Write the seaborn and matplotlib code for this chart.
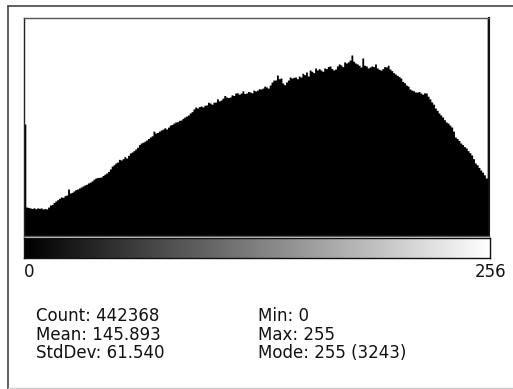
import numpy as np
import pandas as pd
import matplotlib
matplotlib.use("Agg")
import matplotlib.pyplot as plt
from matplotlib.lines import Line2D
import seaborn as sns

# ---- data: pixel counts per gray level (0..255) ----
levels = list(range(256))
counts = [
    1666, 431, 425, 417, 410, 420, 405, 418, 412, 417, 402, 410, 402, 430, 461, 470,
    500, 521, 540, 560, 580, 575, 600, 610, 699, 640, 650, 670, 690, 700, 715, 729,
    745, 760, 770, 790, 803, 820, 845, 863, 870, 872, 878, 900, 920, 937, 960, 997,
    1040, 1060, 1086, 1100, 1140, 1131, 1150, 1180, 1160, 1200, 1235, 1250, 1270, 1294, 1320, 1360,
    1383, 1395, 1410, 1428, 1450, 1473, 1490, 1560, 1532, 1540, 1560, 1577, 1590, 1610, 1592, 1620,
    1651, 1660, 1680, 1696, 1700, 1720, 1726, 1750, 1770, 1785, 1800, 1830, 1850, 1890, 1919, 1905,
    1925, 1934, 1920, 1945, 1949, 1990, 1978, 1960, 1990, 1993, 2040, 2010, 2023, 2050, 2090, 2068,
    2060, 2068, 2100, 2090, 2127, 2130, 2110, 2127, 2160, 2120, 2127, 2150, 2142, 2130, 2170, 2157,
    2170, 2190, 2187, 2200, 2230, 2217, 2200, 2246, 2290, 2320, 2321, 2395, 2340, 2350, 2276, 2250,
    2291, 2320, 2365, 2350, 2360, 2365, 2340, 2380, 2365, 2420, 2400, 2440, 2380, 2469, 2450, 2430,
    2499, 2470, 2490, 2469, 2450, 2500, 2490, 2520, 2529, 2490, 2470, 2484, 2530, 2560, 2544, 2520,
    2590, 2574, 2590, 2618, 2693, 2600, 2574, 2560, 2540, 2514, 2648, 2540, 2529, 2500, 2514, 2530,
    2520, 2560, 2500, 2480, 2469, 2490, 2520, 2514, 2540, 2484, 2460, 2430, 2410, 2390, 2370, 2350,
    2300, 2280, 2246, 2230, 2187, 2170, 2160, 2142, 2140, 2150, 2127, 2110, 2130, 2127, 2080, 2040,
    1993, 1960, 1904, 1870, 1830, 1800, 1770, 1730, 1696, 1680, 1650, 1621, 1560, 1473, 1450, 1420,
    1383, 1360, 1330, 1309, 1270, 1240, 1205, 1150, 1086, 1060, 1020, 982, 950, 910, 863, 3243,
]
axis_labels = ["0", "256"]
stats_left = ["Count: 442368", "Mean: 145.893", "StdDev: 61.540"]
stats_right = ["Min: 0", "Max: 255", "Mode: 255 (3243)"]
mode_count = 3243

df = pd.DataFrame({"level": levels, "count": counts})

sns.set_style("white")
plt.rcParams["font.family"] = ["DejaVu Sans"]

W, H = 513, 389
fig = plt.figure(figsize=(W / 100, H / 100), dpi=100)
fig.patch.set_facecolor("white")


def fx(px):
    return px / W


def fy(py):
    return 1 - py / H


# histogram axes
ax = fig.add_axes([fx(24), fy(236), fx(489) - fx(24), fy(18) - fy(236)])
sns.histplot(data=df, x="level", weights="count", bins=256, binrange=(0, 256),
             element="step", fill=True, color="black", alpha=1, linewidth=0, ax=ax)
ax.set_xlim(0, 256)
ax.set_ylim(0, mode_count)
ax.set_xticks([])
ax.set_yticks([])
ax.set_xlabel("")
ax.set_ylabel("")
for side, sp in ax.spines.items():
    sp.set_visible(True)
    sp.set_linewidth(1.0)
    sp.set_color("#555555")
ax.spines["left"].set_color("#222222")
ax.spines["right"].set_color("#111111")
ax.spines["right"].set_linewidth(1.5)

# gray-level bar
cax = fig.add_axes([fx(24), fy(258), fx(490) - fx(24), fy(238) - fy(258)])
grad = np.array(levels, dtype=float).reshape(1, -1)
cax.imshow(grad, cmap="gray", aspect="auto", extent=(0, 256, 0, 1), vmin=0, vmax=255)
cax.set_xticks([])
cax.set_yticks([])
for sp in cax.spines.values():
    sp.set_color("#111111")
    sp.set_linewidth(1.0)

# axis end labels
fs = 12
fig.text(fx(24), fy(272), axis_labels[0], ha="left", va="center", fontsize=fs, color="#111111")
fig.text(fx(506), fy(272), axis_labels[1], ha="right", va="center", fontsize=fs, color="#111111")

# statistics
rows_y = [316, 335, 353]
for yy, t in zip(rows_y, stats_left):
    fig.text(fx(36), fy(yy), t, ha="left", va="center", fontsize=fs, color="#111111")
for yy, t in zip(rows_y, stats_right):
    fig.text(fx(258), fy(yy), t, ha="left", va="center", fontsize=fs, color="#111111")

# outer window frame
fig.add_artist(Line2D([fx(8), 1.0], [fy(6), fy(6)], color="#444444", lw=1.2))
fig.add_artist(Line2D([fx(8), fx(8)], [fy(6), 0.0], color="#444444", lw=1.2))
fig.add_artist(Line2D([fx(8), 1.0], [fy(388), fy(388)], color="#cccccc", lw=1.0))

fig.savefig("out.png", dpi=100, facecolor="white")
